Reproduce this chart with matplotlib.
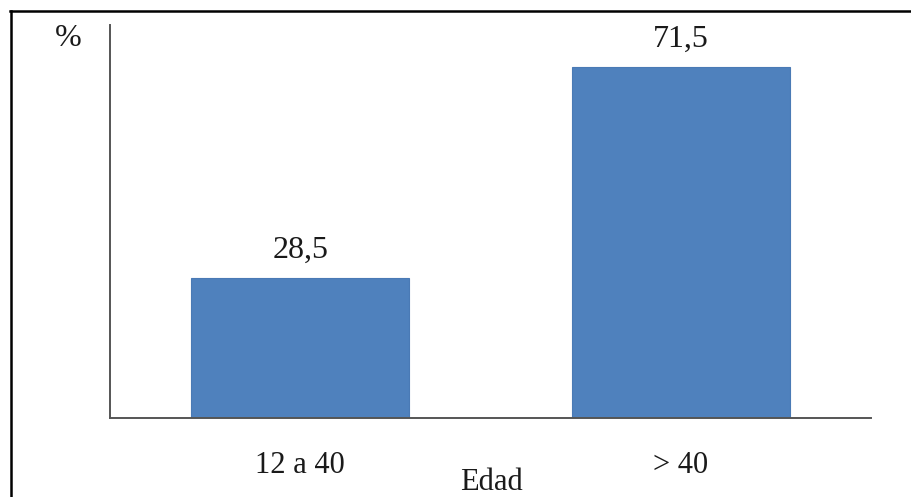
import matplotlib
matplotlib.use("Agg")
import matplotlib.pyplot as plt
from matplotlib.lines import Line2D

categories = ["12 a 40", "> 40"]
values = [28.5, 71.5]
value_labels = ["28,5", "71,5"]

W, H, DPI = 911, 497, 100
plt.rcParams["font.family"] = ["Liberation Serif", "DejaVu Serif"]

fig = plt.figure(figsize=(W / DPI, H / DPI), dpi=DPI)
fig.patch.set_facecolor("white")

ax = fig.add_axes([110 / W, 1 - 417.5 / H, (871 - 110) / W, (417.5 - 25) / H])
x = list(range(len(categories)))
bars = ax.bar(x, values, width=0.572, color="#4F81BD", edgecolor="#4A7AB5", linewidth=0.8, zorder=2)

ax.set_xlim(-0.5, 1.5)
ax.set_ylim(0, 80)
ax.set_yticks([])
ax.set_xticks(x)
ax.set_xticklabels(categories, fontsize=22, color="#1a1a1a")
ax.tick_params(axis="x", length=0, pad=24)

for side in ("top", "right"):
    ax.spines[side].set_visible(False)
for side in ("left", "bottom"):
    ax.spines[side].set_color("#555555")
    ax.spines[side].set_linewidth(1.4)

for rect, lab in zip(bars, value_labels):
    ax.annotate(lab, (rect.get_x() + rect.get_width() / 2, rect.get_height()),
                xytext=(0, 14.5), textcoords="offset points",
                ha="center", va="baseline", fontsize=23, color="#1a1a1a")

fig.text(68 / W, 1 - 38 / H, "%", ha="center", va="center", fontsize=23, color="#1a1a1a")
fig.text(491 / W, 1 - 490 / H, "Edad", ha="center", va="baseline", fontsize=22, color="#1a1a1a")

# outer frame: top and left edges
fig.add_artist(Line2D([10 / W, 1], [1 - 10.5 / H, 1 - 10.5 / H], transform=fig.transFigure,
                      color="black", linewidth=1.8))
fig.add_artist(Line2D([11 / W, 11 / W], [0, 1 - 10.5 / H], transform=fig.transFigure,
                      color="black", linewidth=1.8))

fig.savefig("out.png", dpi=DPI, facecolor="white")
